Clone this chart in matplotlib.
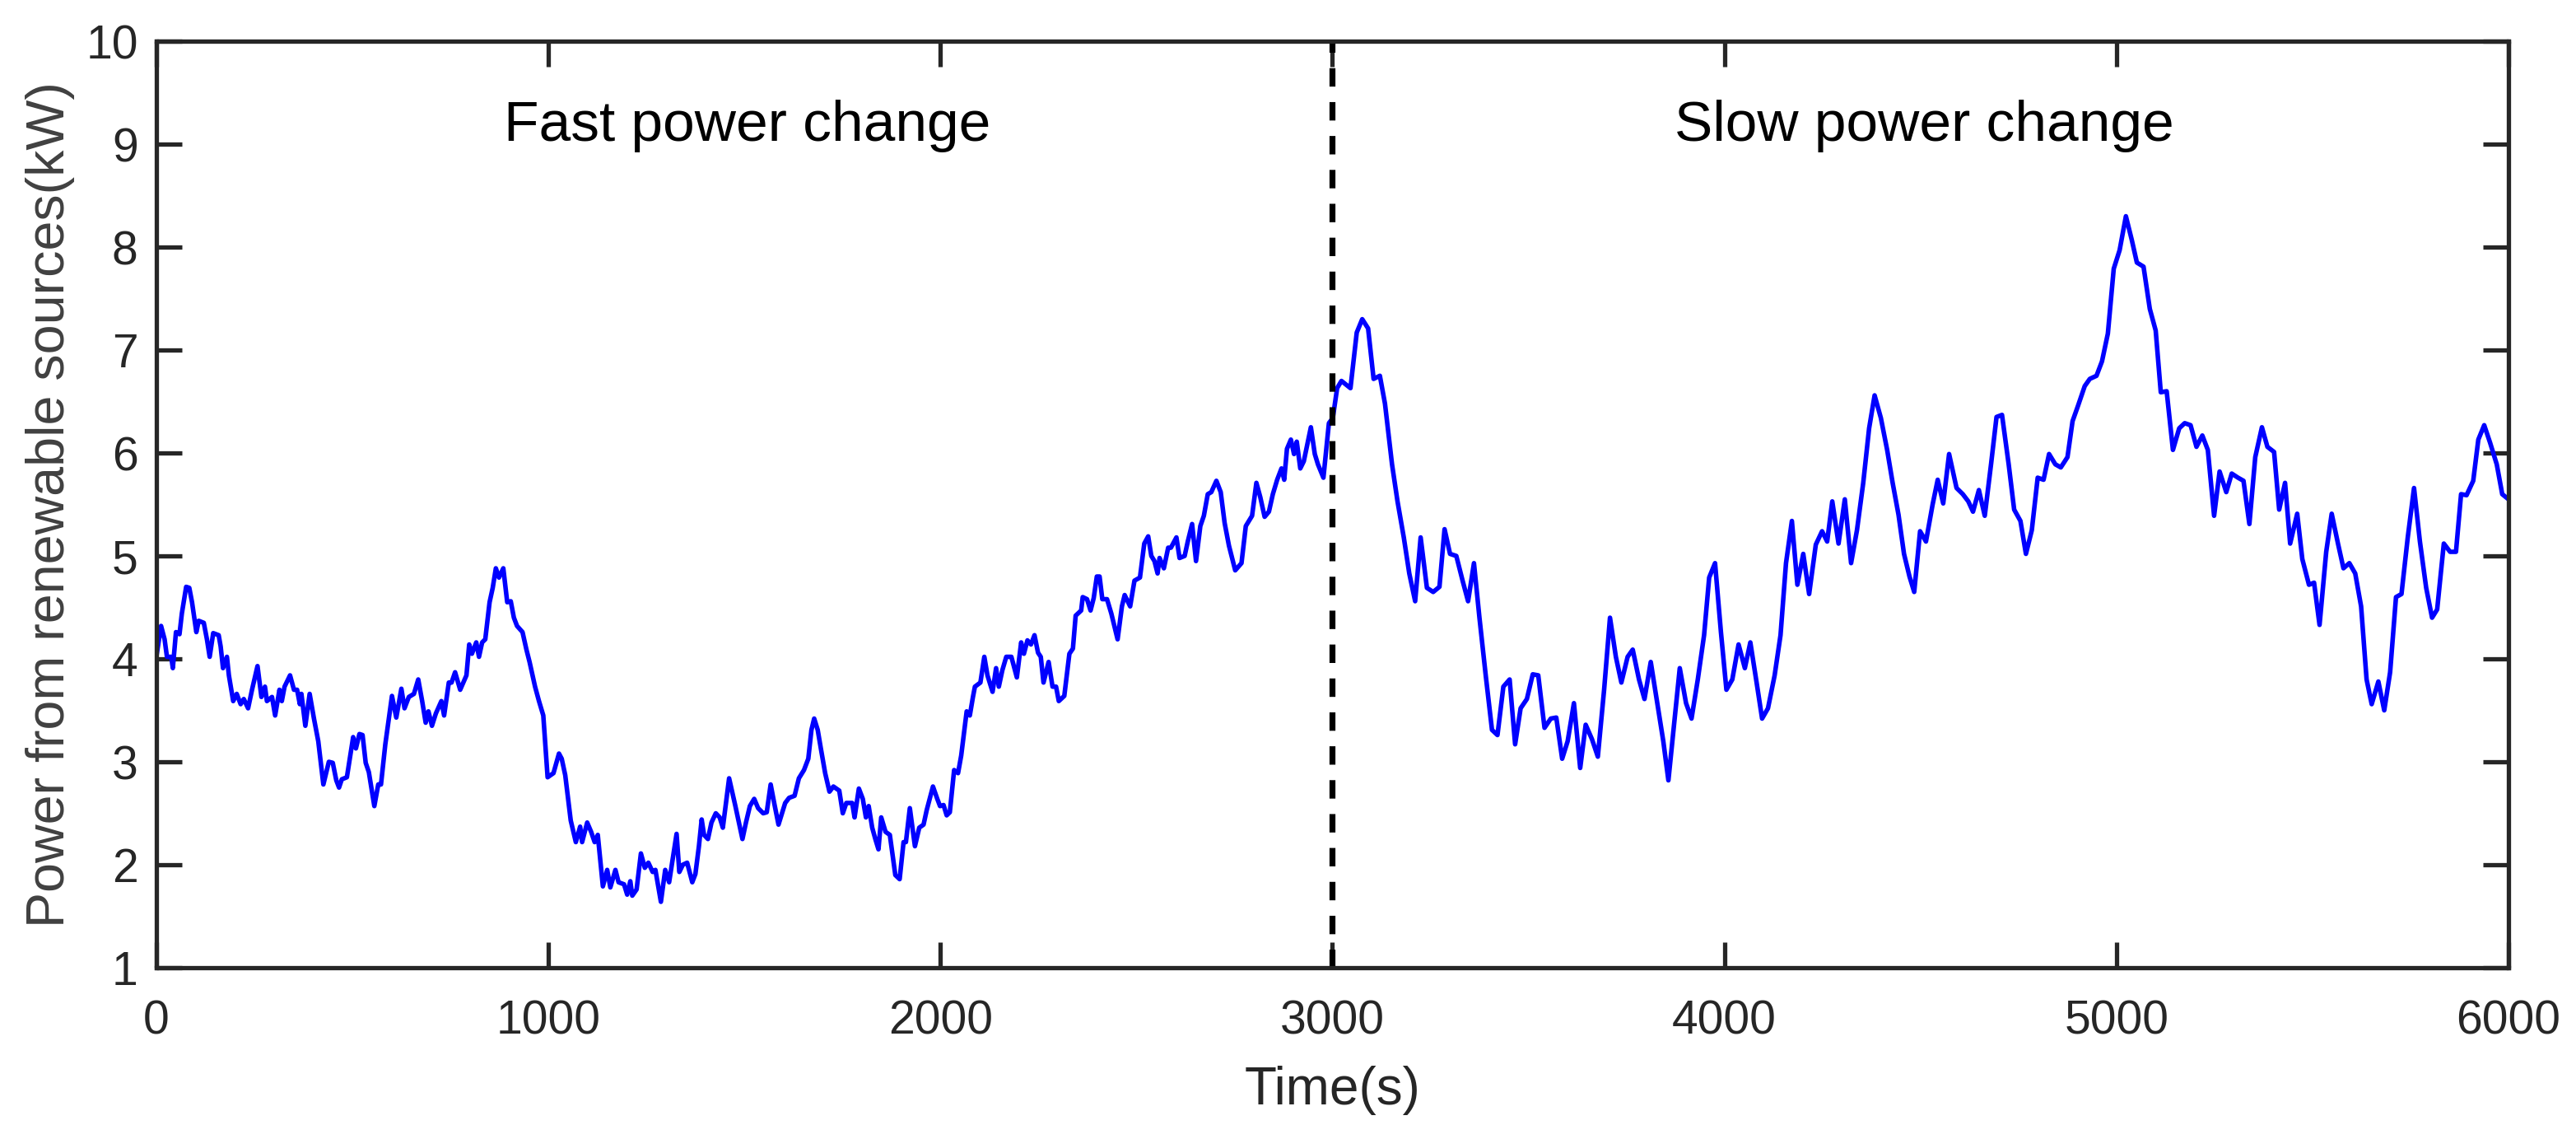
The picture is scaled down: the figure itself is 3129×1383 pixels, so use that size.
import matplotlib
matplotlib.use('Agg')
import matplotlib.pyplot as plt

plt.rcParams['font.family'] = ['Liberation Sans', 'DejaVu Sans']

# renewable power trace (time in s, power in kW)
time_s = [
    0, 12, 21, 27, 38, 42, 50, 59, 65, 76, 84, 91, 102, 108, 121, 129, 136, 145, 159, 164,
    170, 180, 185, 196, 205, 215, 223, 234, 244, 258, 268, 277, 282, 295, 303, 314, 320, 327, 341, 351,
    359, 366, 370, 380, 391, 402, 413, 426, 440, 450, 459, 466, 473, 486, 502, 509, 518, 526, 534, 542,
    556, 566, 573, 584, 593, 601, 612, 625, 633, 644, 657, 668, 678, 687, 694, 703, 713, 727, 734, 746,
    753, 762, 775, 791, 798, 805, 816, 823, 831, 839, 850, 858, 866, 874, 885, 895, 904, 912, 920, 934,
    944, 952, 966, 976, 987, 998, 1013, 1027, 1034, 1043, 1057, 1070, 1081, 1086, 1099, 1109, 1118, 1126, 1139, 1150,
    1158, 1171, 1179, 1193, 1201, 1209, 1214, 1225, 1236, 1246, 1255, 1266, 1273, 1287, 1298, 1308, 1327, 1334, 1343, 1354,
    1367, 1375, 1384, 1391, 1397, 1407, 1416, 1427, 1437, 1445, 1461, 1477, 1495, 1504, 1514, 1525, 1535, 1548, 1557, 1567,
    1576, 1587, 1604, 1614, 1628, 1639, 1652, 1663, 1671, 1678, 1687, 1695, 1706, 1717, 1727, 1742, 1751, 1760, 1775, 1781,
    1792, 1802, 1810, 1817, 1826, 1834, 1842, 1849, 1860, 1871, 1885, 1896, 1906, 1912, 1922, 1935, 1946, 1957, 1965, 1981,
    1992, 1999, 2008, 2016, 2024, 2035, 2045, 2053, 2067, 2075, 2083, 2088, 2102, 2112, 2120, 2133, 2142, 2149, 2158, 2168,
    2181, 2195, 2206, 2213, 2222, 2231, 2240, 2249, 2256, 2263, 2276, 2286, 2295, 2302, 2316, 2329, 2338, 2345, 2359, 2363,
    2374, 2383, 2391, 2399, 2406, 2413, 2425, 2436, 2452, 2463, 2470, 2484, 2495, 2509, 2520, 2530, 2538, 2546, 2554, 2559,
    2570, 2581, 2588, 2602, 2610, 2623, 2631, 2642, 2652, 2663, 2672, 2682, 2691, 2704, 2715, 2725, 2736, 2752, 2768, 2779,
    2795, 2806, 2816, 2827, 2838, 2848, 2859, 2870, 2877, 2884, 2894, 2902, 2909, 2918, 2927, 2945, 2955, 2963, 2977, 2991,
    3001, 3012, 3023, 3046, 3062, 3076, 3091, 3105, 3121, 3134, 3152, 3166, 3182, 3196, 3211, 3225, 3241, 3257, 3273, 3286,
    3300, 3316, 3332, 3346, 3361, 3375, 3391, 3407, 3421, 3436, 3452, 3466, 3480, 3496, 3511, 3525, 3541, 3557, 3571, 3586,
    3600, 3616, 3632, 3646, 3662, 3677, 3693, 3708, 3723, 3737, 3753, 3766, 3782, 3796, 3812, 3829, 3844, 3857, 3871, 3886,
    3902, 3916, 3932, 3948, 3961, 3976, 3991, 4005, 4020, 4036, 4052, 4066, 4082, 4096, 4111, 4128, 4143, 4157, 4172, 4186,
    4201, 4216, 4233, 4249, 4262, 4275, 4291, 4307, 4323, 4338, 4354, 4369, 4383, 4399, 4415, 4429, 4444, 4458, 4472, 4484,
    4499, 4514, 4531, 4544, 4558, 4573, 4592, 4608, 4622, 4634, 4649, 4664, 4680, 4694, 4708, 4725, 4739, 4755, 4769, 4784,
    4799, 4814, 4828, 4844, 4858, 4875, 4888, 4902, 4919, 4932, 4949, 4963, 4978, 4993, 5008, 5024, 5039, 5052, 5069, 5085,
    5100, 5113, 5128, 5144, 5160, 5174, 5189, 5204, 5219, 5233, 5249, 5263, 5280, 5294, 5310, 5324, 5339, 5354, 5371, 5385,
    5402, 5415, 5430, 5443, 5461, 5474, 5491, 5504, 5518, 5535, 5549, 5565, 5579, 5594, 5609, 5624, 5638, 5651, 5668, 5683,
    5698, 5713, 5727, 5743, 5759, 5774, 5790, 5805, 5818, 5835, 5851, 5866, 5879, 5893, 5910, 5923, 5938, 5953, 5970, 5984,
    6000,
]
power_kw = [
    4.02, 4.32, 4.19, 4.02, 4.02, 3.91, 4.26, 4.24, 4.44, 4.70, 4.69, 4.55, 4.26, 4.37, 4.35, 4.19, 4.02, 4.25, 4.23, 4.12,
    3.91, 4.02, 3.84, 3.59, 3.66, 3.56, 3.61, 3.52, 3.70, 3.93, 3.63, 3.73, 3.59, 3.63, 3.45, 3.70, 3.59, 3.73, 3.84, 3.70,
    3.70, 3.56, 3.66, 3.35, 3.66, 3.42, 3.20, 2.78, 3.00, 2.99, 2.82, 2.75, 2.83, 2.85, 3.24, 3.13, 3.27, 3.26, 2.99, 2.90,
    2.57, 2.78, 2.78, 3.17, 3.42, 3.64, 3.43, 3.71, 3.52, 3.63, 3.66, 3.80, 3.59, 3.38, 3.49, 3.35, 3.47, 3.59, 3.45, 3.77,
    3.77, 3.87, 3.70, 3.84, 4.14, 4.05, 4.16, 4.02, 4.16, 4.19, 4.55, 4.69, 4.88, 4.79, 4.88, 4.55, 4.56, 4.40, 4.32, 4.26,
    4.09, 3.97, 3.73, 3.59, 3.45, 2.85, 2.89, 3.08, 3.03, 2.87, 2.43, 2.22, 2.37, 2.22, 2.41, 2.32, 2.22, 2.29, 1.79, 1.95,
    1.78, 1.95, 1.83, 1.81, 1.71, 1.84, 1.70, 1.76, 2.11, 1.97, 2.02, 1.93, 1.95, 1.64, 1.95, 1.83, 2.30, 1.93, 2.00, 2.02,
    1.83, 1.91, 2.18, 2.44, 2.29, 2.25, 2.41, 2.50, 2.46, 2.36, 2.84, 2.57, 2.25, 2.41, 2.57, 2.64, 2.55, 2.50, 2.51, 2.78,
    2.60, 2.39, 2.60, 2.65, 2.67, 2.84, 2.92, 3.03, 3.31, 3.42, 3.31, 3.13, 2.89, 2.71, 2.76, 2.72, 2.50, 2.60, 2.60, 2.46,
    2.74, 2.64, 2.46, 2.57, 2.36, 2.25, 2.15, 2.46, 2.32, 2.29, 1.90, 1.86, 2.22, 2.22, 2.55, 2.18, 2.36, 2.39, 2.53, 2.76,
    2.64, 2.57, 2.58, 2.48, 2.51, 2.92, 2.89, 3.06, 3.49, 3.45, 3.63, 3.73, 3.77, 4.02, 3.84, 3.68, 3.91, 3.73, 3.89, 4.02,
    4.02, 3.82, 4.16, 4.05, 4.18, 4.14, 4.23, 4.06, 4.02, 3.77, 3.97, 3.73, 3.73, 3.59, 3.64, 4.05, 4.10, 4.42, 4.47, 4.60,
    4.58, 4.47, 4.59, 4.80, 4.80, 4.58, 4.58, 4.44, 4.19, 4.51, 4.62, 4.51, 4.76, 4.79, 5.12, 5.19, 5.00, 4.95, 4.83, 4.98,
    4.88, 5.08, 5.08, 5.18, 4.98, 5.00, 5.14, 5.31, 4.95, 5.29, 5.39, 5.60, 5.62, 5.73, 5.62, 5.32, 5.10, 4.86, 4.93, 5.29,
    5.39, 5.71, 5.57, 5.38, 5.43, 5.60, 5.74, 5.85, 5.74, 6.04, 6.13, 5.99, 6.11, 5.85, 5.92, 6.25, 5.99, 5.89, 5.76, 6.29,
    6.34, 6.63, 6.70, 6.63, 7.17, 7.30, 7.21, 6.72, 6.75, 6.48, 5.89, 5.53, 5.18, 4.83, 4.56, 5.18, 4.69, 4.65, 4.70, 5.26,
    5.02, 5.00, 4.76, 4.56, 4.93, 4.40, 3.84, 3.31, 3.26, 3.73, 3.80, 3.17, 3.52, 3.61, 3.85, 3.84, 3.33, 3.42, 3.43, 3.03,
    3.20, 3.57, 2.94, 3.36, 3.22, 3.05, 3.70, 4.40, 4.02, 3.77, 4.02, 4.09, 3.80, 3.61, 3.97, 3.56, 3.20, 2.82, 3.35, 3.91,
    3.57, 3.42, 3.80, 4.23, 4.79, 4.93, 4.26, 3.70, 3.80, 4.14, 3.91, 4.16, 3.77, 3.42, 3.52, 3.84, 4.23, 4.93, 5.34, 4.72,
    5.02, 4.63, 5.11, 5.24, 5.14, 5.53, 5.12, 5.55, 4.93, 5.25, 5.71, 6.24, 6.56, 6.34, 6.03, 5.71, 5.40, 5.02, 4.80, 4.65,
    5.24, 5.14, 5.50, 5.74, 5.51, 5.99, 5.66, 5.60, 5.53, 5.43, 5.64, 5.39, 5.89, 6.35, 6.37, 5.89, 5.45, 5.34, 5.02, 5.25,
    5.76, 5.74, 5.99, 5.89, 5.86, 5.96, 6.31, 6.46, 6.65, 6.72, 6.75, 6.89, 7.16, 7.79, 7.97, 8.30, 8.07, 7.85, 7.81, 7.40,
    7.19, 6.59, 6.60, 6.03, 6.24, 6.29, 6.27, 6.06, 6.17, 6.03, 5.39, 5.82, 5.62, 5.80, 5.76, 5.73, 5.31, 5.96, 6.25, 6.06,
    6.01, 5.45, 5.71, 5.12, 5.41, 4.97, 4.72, 4.74, 4.33, 5.04, 5.41, 5.12, 4.88, 4.93, 4.83, 4.51, 3.80, 3.56, 3.78, 3.50,
    3.87, 4.60, 4.63, 5.18, 5.66, 5.14, 4.69, 4.40, 4.48, 5.12, 5.04, 5.04, 5.60, 5.59, 5.73, 6.13, 6.27, 6.10, 5.89, 5.60,
    5.55,
]

switch_time = 3000
region_labels = ['Fast power change', 'Slow power change']
region_label_x = [1508, 4509]
region_label_y = 9.03

x_ticks = [0, 1000, 2000, 3000, 4000, 5000, 6000]
y_ticks = [1, 2, 3, 4, 5, 6, 7, 8, 9, 10]

fig = plt.figure(figsize=(31.29, 13.83), dpi=100)
ax = fig.add_axes([0.0607, 0.1504, 0.9131, 0.8134])

ax.plot(time_s, power_kw, color='#0000ff', lw=4.0)
ax.axvline(switch_time, color='k', lw=5.2, ls=(0, (3.1, 2.6)))

for lbl, xx in zip(region_labels, region_label_x):
    ax.text(xx, region_label_y, lbl, ha='center', va='baseline', fontsize=50, color='k')

ax.set_xlim(0, 6000)
ax.set_ylim(1, 10)
ax.set_xticks(x_ticks)
ax.set_yticks(y_ticks)

axis_col = '#262626'
for sp in ax.spines.values():
    sp.set_linewidth(3.8)
    sp.set_color(axis_col)
ax.tick_params(direction='in', length=22, width=3.8, colors=axis_col,
               labelsize=41, top=True, right=True)
ax.tick_params(axis='x', pad=28)
ax.tick_params(axis='y', pad=16)

ax.set_xlabel('Time(s)', fontsize=46, color=axis_col)
ax.xaxis.set_label_coords(0.5, -0.106)
ax.set_ylabel('Power from renewable sources(kW)', fontsize=46.5, color='#404040')
ax.yaxis.set_label_coords(-0.0347, 0.5)

fig.savefig('out.png', dpi=100)
